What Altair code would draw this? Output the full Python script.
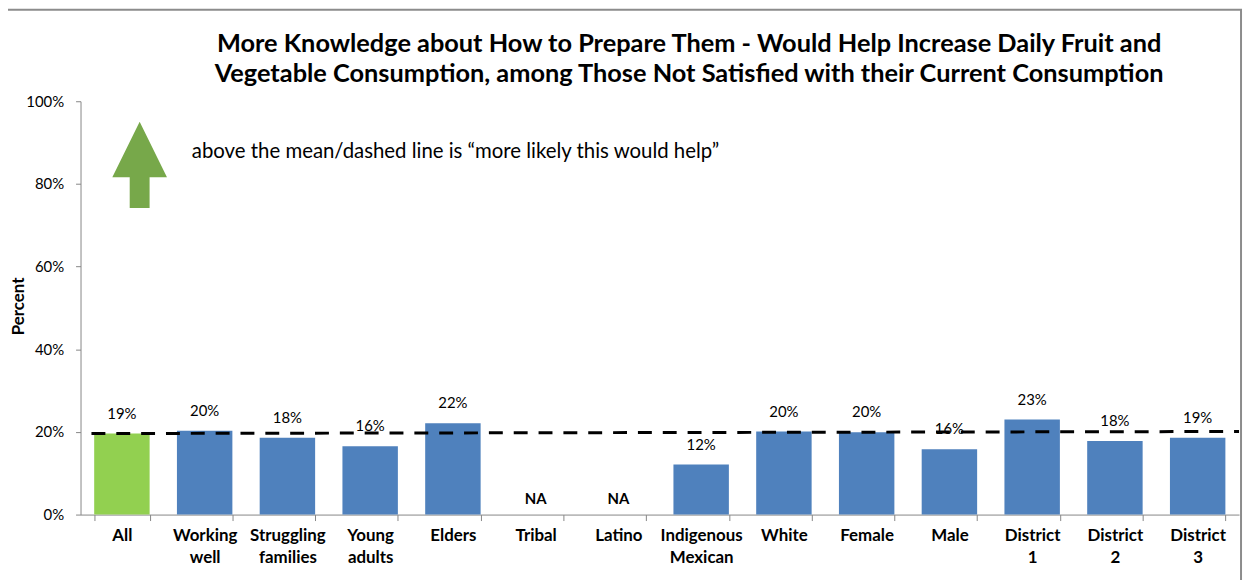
import altair as alt
import pandas as pd

categories = ["All", "Working well", "Struggling families", "Young adults", "Elders",
              "Tribal", "Latino", "Indigenous Mexican", "White", "Female", "Male",
              "District 1", "District 2", "District 3"]
values = [19.6, 20.3, 18.6, 16.5, 22.1, None, None, 12.1, 20.1, 19.9, 15.8, 23.0, 17.8, 18.6]
value_labels = ["19%", "20%", "18%", "16%", "22%", "NA", "NA", "12%", "20%", "20%",
                "16%", "23%", "18%", "19%"]
groups = ["All"] + ["Subgroup"] * 13
mean_start = 19.6
mean_end = 20.1
y_ticks = [0, 20, 40, 60, 80, 100]

title_lines = ["More Knowledge about How to Prepare Them - Would Help Increase Daily Fruit and",
               "Vegetable Consumption, among Those Not Satisfied with their Current Consumption"]
note_text = "above the mean/dashed line is \u201cmore likely this would help\u201d"
note_y = 87.7
arrow_y = 84.6

FONT = "Lato"
W, H = 1166, 416

df = pd.DataFrame({
    "cat": categories,
    "val": values,
    "lab": value_labels,
    "grp": groups,
})
df["ypos"] = df["val"].fillna(0)

x_enc = alt.X("cat:N", sort=categories, title=None,
              scale=alt.Scale(paddingInner=0.33, paddingOuter=0.165),
              axis=alt.Axis(labelAngle=0, tickBand="extent", labelFont=FONT,
                            labelFontSize=17, labelFontWeight="bold", labelColor="black",
                            labelPadding=7, tickSize=6, tickColor="#868686",
                            domainColor="#868686", labelLineHeight=22,
                            labelExpr="split(datum.label, ' ')"))
y_scale = alt.Scale(domain=[0, 100], nice=False)

base = alt.Chart(df)

bars = base.transform_filter("datum.val != null").mark_bar().encode(
    x=x_enc,
    y=alt.Y("val:Q", scale=y_scale, title="Percent",
            axis=alt.Axis(values=y_ticks, labelExpr="datum.value + '%'", grid=False,
                          labelFont=FONT, labelFontSize=15, labelColor="black",
                          labelPadding=12, tickSize=5, tickColor="#868686",
                          domainColor="#868686", titleFont=FONT, titleFontSize=17,
                          titleFontWeight="bold", titleColor="black",
                          titleX=-62, titleY=H / 2 - 2, titleAlign="center",
                          titleBaseline="middle", titleAngle=270)),
    color=alt.Color("grp:N", scale=alt.Scale(domain=["All", "Subgroup"],
                                             range=["#92D050", "#4F81BD"]), legend=None),
)

num_text = base.transform_filter("datum.val != null").mark_text(
    baseline="bottom", dy=-12, font=FONT, fontSize=15, color="black"
).encode(x=alt.X("cat:N", sort=categories), y=alt.Y("ypos:Q", scale=y_scale), text="lab:N")

na_text = base.transform_filter("datum.val == null").mark_text(
    baseline="bottom", dy=-8, font=FONT, fontSize=15, fontWeight="bold", color="black"
).encode(x=alt.X("cat:N", sort=categories), y=alt.Y("ypos:Q", scale=y_scale), text="lab:N")

mean_df = pd.DataFrame({"y1": [mean_start], "y2": [mean_end]})
mean_line = alt.Chart(mean_df).mark_rule(
    color="black", strokeWidth=3, strokeDash=[14, 11]
).encode(x=alt.value(11), x2=alt.value(W), y=alt.Y("y1:Q", scale=y_scale), y2="y2:Q")

arrow_path = ("M0,-1 L0.632,0.287 L0.23,0.287 L0.23,1 L-0.23,1 "
              "L-0.23,0.287 L-0.632,0.287 Z")
arrow = alt.Chart(pd.DataFrame({"y": [arrow_y]})).mark_point(
    shape=arrow_path, size=7569, filled=True, fill="#77A84A", opacity=1, strokeWidth=0
).encode(x=alt.value(59.5), y=alt.Y("y:Q", scale=y_scale))

note = alt.Chart(pd.DataFrame({"y": [note_y], "t": [note_text]})).mark_text(
    align="left", baseline="middle", font=FONT, fontSize=20.5, color="black"
).encode(x=alt.value(112), y=alt.Y("y:Q", scale=y_scale), text="t:N")

title = alt.Chart(pd.DataFrame({"a": [1]})).mark_text(
    align="center", baseline="alphabetic", font=FONT, fontSize=25.5, fontWeight="bold",
    color="black", lineHeight=31
).encode(x=alt.value(612.5), y=alt.value(-50), text=alt.value(title_lines))

frame = alt.Chart(pd.DataFrame({"a": [1]})).mark_rect(
    fill=None, stroke="#8C8C8C", strokeWidth=2
).encode(x=alt.value(-77), x2=alt.value(1168), y=alt.value(-92), y2=alt.value(600))

chart = alt.layer(frame, bars, num_text, na_text, mean_line, arrow, note, title).properties(
    width=W, height=H,
    background="white",
    autosize=alt.AutoSizeParams(type="none"),
    padding={"left": 73, "top": 92, "right": 6, "bottom": 64},
).configure_view(stroke=None)

chart.save("out.html", embed_options={"renderer": "svg", "actions": False})
